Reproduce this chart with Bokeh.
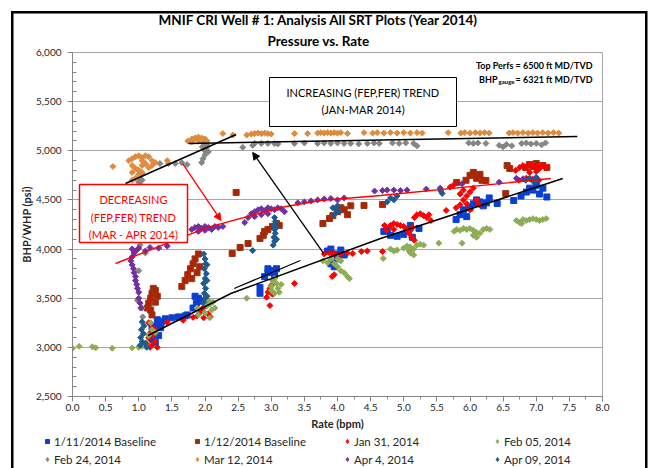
import math
from bokeh.plotting import figure
from bokeh.layouts import column
from bokeh.models import (Range1d, FixedTicker, NumeralTickFormatter, Label, BoxAnnotation,
                          Arrow, NormalHead, Legend, LegendItem, Title)
from bokeh.embed import file_html
from bokeh.resources import INLINE

FONT = "Lato"

# ---------------- data ----------------
x_ticks = [0.0, 0.5, 1.0, 1.5, 2.0, 2.5, 3.0, 3.5, 4.0, 4.5, 5.0, 5.5, 6.0, 6.5, 7.0, 7.5, 8.0]
x_minor_ticks = [0.25, 0.75, 1.25, 1.75, 2.25, 2.75, 3.25, 3.75, 4.25, 4.75, 5.25, 5.75,
                 6.25, 6.75, 7.25, 7.75]
y_ticks = [2500, 3000, 3500, 4000, 4500, 5000, 5500, 6000]
y_minor_ticks = [2600, 2700, 2800, 2900, 3100, 3200, 3300, 3400, 3600, 3700, 3800, 3900,
                 4100, 4200, 4300, 4400, 4600, 4700, 4800, 4900, 5100, 5200, 5300, 5400,
                 5600, 5700, 5800, 5900]

series_names = ["1/11/2014 Baseline", "1/12/2014 Baseline", "Jan 31, 2014", "Feb 05, 2014",
                "Feb 24, 2014", "Mar 12, 2014", "Apr 4, 2014", "Apr 09, 2014"]

b11_pts = [(1.2, 3080), (1.22, 3150), (1.25, 3220), (1.28, 3280), (1.3, 3120), (1.33, 3200),
           (1.35, 3260), (1.2, 3200), (1.25, 3050), (1.4, 3290), (1.5, 3300), (1.6, 3310),
           (1.7, 3320), (1.73, 3330), (1.82, 3400), (1.87, 3450), (1.9, 3500), (1.95, 3470),
           (1.85, 3520), (2.83, 3610), (2.83, 3550), (2.9, 3720), (2.95, 3760), (3.0, 3780),
           (3.05, 3740), (3.08, 3800), (2.95, 3800), (3.85, 3980), (3.9, 4000), (3.95, 3950),
           (4.0, 3900), (4.05, 3990), (4.1, 3940), (3.9, 3850), (3.95, 3820), (4.7, 4180),
           (4.75, 4200), (4.8, 4140), (4.9, 4130), (5.0, 4150), (5.05, 4200), (5.1, 4240),
           (5.13, 4120), (5.23, 4210), (5.79, 4300), (5.85, 4350), (5.9, 4400), (5.95, 4330),
           (6.0, 4420), (6.05, 4460), (6.1, 4500), (6.15, 4480), (6.2, 4440), (6.25, 4470),
           (6.29, 4520), (6.41, 4464), (6.66, 4494), (6.77, 4540), (6.85, 4580), (6.9, 4620),
           (6.95, 4600), (7.0, 4650), (7.05, 4560), (7.1, 4620), (7.16, 4530)]

b12_pts = [(1.13, 3400), (1.15, 3450), (1.18, 3500), (1.2, 3550), (1.22, 3600), (1.25, 3580),
           (1.28, 3520), (1.25, 3460), (1.18, 3380), (1.2, 3330), (1.65, 3620), (1.7, 3680),
           (1.74, 3740), (1.78, 3800), (1.82, 3850), (1.85, 3900), (1.9, 3950), (1.88, 3760),
           (1.92, 3820), (1.8, 3700), (2.41, 3955), (2.47, 4576), (2.53, 4016), (2.65, 4057),
           (2.83, 4108), (2.9, 4180), (2.95, 4200), (3.02, 4230), (3.08, 4260), (3.12, 4240),
           (2.88, 4140), (3.78, 4260), (3.88, 4311), (3.93, 4340), (4.0, 4380), (4.05, 4420),
           (4.1, 4400), (4.15, 4350), (4.2, 4440), (4.4, 4443), (4.68, 4454), (5.8, 4677),
           (5.94, 4700), (6.0, 4750), (6.05, 4780), (6.1, 4720), (6.15, 4760), (6.18, 4700),
           (6.24, 4698), (6.54, 4566), (6.56, 4850), (6.6, 4820), (6.84, 4830), (6.9, 4860),
           (7.0, 4870), (7.1, 4850), (7.16, 4830), (6.95, 4840)]

jan31_pts = [(1.13, 3050), (1.15, 3100), (1.18, 3150), (1.2, 3200), (1.22, 3120), (1.25, 3060),
             (1.2, 3020), (1.28, 3000), (1.25, 3180), (1.15, 3250), (1.17, 3000), (1.43, 3255),
             (1.67, 3275), (1.82, 3305), (1.88, 3320), (1.92, 3350), (1.95, 3390), (2.0, 3420),
             (2.05, 3340), (2.08, 3310), (1.98, 3300), (2.93, 3510), (2.95, 3560), (2.98, 3600),
             (3.0, 3630), (3.02, 3540), (2.98, 3425), (3.35, 3650), (3.92, 3720), (3.95, 3740),
             (3.8, 3950), (3.88, 3960), (3.95, 3955), (4.05, 3950), (4.15, 3960), (4.23, 3955),
             (4.36, 3975), (4.45, 3980), (4.68, 3975), (4.74, 4190), (4.8, 4240), (4.85, 4260),
             (4.9, 4250), (4.95, 4240), (5.0, 4230), (5.05, 4200), (5.1, 4190), (5.13, 4220),
             (4.85, 4200), (5.08, 4160), (5.12, 4120), (5.16, 4090), (4.71, 4240), (5.16, 4320),
             (5.2, 4350), (5.25, 4360), (5.3, 4340), (5.35, 4320), (5.38, 4350), (5.41, 4290),
             (5.64, 4393), (5.79, 4420), (5.85, 4450), (5.9, 4500), (5.95, 4540), (6.0, 4580),
             (6.05, 4620), (5.9, 4600), (5.85, 4560), (6.1, 4500), (5.95, 4460), (6.0, 4400),
             (6.14, 4450), (5.75, 4650), (5.7, 4630), (6.69, 4800), (6.75, 4830), (6.8, 4850),
             (6.85, 4840), (6.9, 4860), (6.95, 4850), (7.0, 4840), (7.05, 4820), (7.1, 4850),
             (7.16, 4830), (6.74, 4700), (6.85, 4720), (6.95, 4710), (7.04, 4700), (6.9, 4780),
             (7.0, 4790)]

feb05_pts = [(0.0, 2990), (0.1, 3010), (0.3, 3005), (0.35, 2995), (0.6, 2990), (0.9, 2995),
             (1.0, 3000), (1.05, 3010), (1.12, 3050), (1.15, 3120), (1.2, 3180), (1.18, 3250),
             (1.25, 3150), (1.88, 3400), (1.9, 3330), (2.0, 3350), (2.03, 3420), (2.05, 3480),
             (2.08, 3440), (2.1, 3380), (2.12, 3460), (2.15, 3400), (2.07, 3300), (2.0, 3460),
             (2.63, 3500), (3.0, 3620), (3.02, 3680), (3.05, 3700), (3.08, 3650), (3.1, 3600),
             (3.12, 3560), (3.15, 3640), (3.05, 3550), (3.0, 3580), (3.78, 3880), (3.85, 3860),
             (3.9, 3900), (3.95, 3850), (4.0, 3820), (4.05, 3780), (4.1, 3760), (4.15, 3720),
             (4.18, 3700), (4.0, 3900), (4.05, 3880), (4.69, 3904), (4.8, 4000), (4.85, 3980),
             (4.9, 3990), (5.0, 4010), (5.05, 4030), (5.1, 4020), (5.15, 4000), (5.2, 4040),
             (5.25, 4050), (5.3, 4040), (5.1, 3960), (5.15, 3940), (5.08, 3980), (5.53, 4060),
             (5.76, 4180), (5.8, 4200), (5.85, 4190), (5.9, 4210), (5.95, 4200), (6.0, 4210),
             (6.05, 4190), (6.1, 4170), (6.15, 4160), (6.2, 4200), (6.25, 4210), (6.3, 4200),
             (6.05, 4140), (6.1, 4120), (5.88, 4060), (6.7, 4290), (6.75, 4270), (6.8, 4300),
             (6.85, 4290), (6.9, 4300), (6.95, 4310), (7.0, 4300), (7.05, 4290), (7.1, 4300),
             (7.15, 4310), (6.78, 4260)]

feb24_pts = [(1.02, 4040), (1.1, 3960), (1.0, 3780), (0.98, 3480), (1.05, 3400), (1.06, 3310),
             (0.98, 4630), (1.0, 4680), (1.02, 4720), (1.05, 4760), (1.0, 4800), (1.03, 4650),
             (1.05, 4700), (1.32, 4870), (1.45, 4870), (1.55, 4870), (1.65, 4880), (1.73, 4860),
             (1.95, 4880), (1.97, 4920), (2.0, 4960), (2.0, 5000), (2.02, 5030), (2.03, 5060),
             (1.98, 5080), (2.05, 4990), (1.96, 5040), (2.57, 5035), (2.72, 5055), (2.75, 5075),
             (2.85, 5075), (2.95, 5075), (3.05, 5075), (3.1, 5070), (3.35, 5075), (3.5, 5080),
             (3.7, 5075), (3.8, 5080), (3.9, 5075), (4.0, 5080), (4.1, 5075), (4.2, 5075),
             (4.32, 5070), (4.45, 5075), (4.55, 5080), (4.63, 5075), (4.83, 5080), (4.93, 5075),
             (5.03, 5080), (5.15, 5075), (5.2, 5050), (5.98, 5080), (6.05, 5075), (6.12, 5080),
             (6.24, 5075), (6.44, 5055), (6.5, 5040), (6.55, 5065), (6.63, 5050), (6.78, 5075),
             (6.85, 5080), (6.92, 5070), (7.0, 5075), (7.08, 5060), (7.14, 5080)]

mar12_pts = [(0.61, 4840), (0.85, 4900), (0.9, 4920), (0.95, 4940), (1.0, 4950), (1.05, 4930),
             (1.1, 4950), (1.15, 4940), (1.2, 4900), (1.25, 4880), (0.9, 4850), (0.95, 4820),
             (1.0, 4800), (1.05, 4850), (1.1, 4870), (1.15, 4830), (1.0, 4760), (0.95, 4720),
             (0.9, 4700), (1.05, 4780), (0.9, 4780), (1.2, 4850), (1.05, 4900), (1.43, 4900),
             (1.74, 5100), (1.8, 5120), (1.85, 5130), (1.9, 5140), (1.95, 5130), (2.0, 5120),
             (2.03, 5100), (1.9, 5100), (1.8, 5090), (2.27, 5175), (2.42, 5160), (2.63, 5160),
             (2.7, 5170), (2.75, 5175), (2.8, 5180), (2.85, 5175), (2.9, 5180), (2.95, 5175),
             (3.0, 5170), (3.35, 5175), (3.55, 5175), (3.7, 5180), (3.75, 5185), (3.8, 5180),
             (3.85, 5185), (3.9, 5180), (3.95, 5185), (4.0, 5180), (4.05, 5185), (4.15, 5175),
             (4.4, 5185), (4.53, 5180), (4.6, 5185), (4.7, 5180), (4.8, 5185), (4.9, 5180),
             (5.0, 5185), (5.1, 5180), (5.2, 5185), (5.28, 5180), (5.67, 5185), (5.86, 5180),
             (5.92, 5185), (6.0, 5180), (6.08, 5185), (6.15, 5180), (6.22, 5185), (6.29, 5180),
             (6.59, 5180), (6.65, 5185), (6.72, 5180), (6.8, 5185), (6.88, 5180), (6.95, 5185),
             (7.02, 5180), (7.1, 5185), (7.18, 5180), (7.26, 5185), (7.34, 5180)]

apr04_pts = [(0.9, 4000), (0.93, 3960), (0.9, 3920), (0.88, 3880), (0.9, 3840), (0.92, 3800),
             (0.93, 3760), (0.95, 3720), (0.95, 3680), (0.97, 3640), (0.98, 3600), (1.0, 3560),
             (1.0, 3500), (1.02, 3450), (1.03, 3400), (0.97, 3990), (1.0, 4010), (1.1, 3980),
             (1.17, 4016), (1.3, 4010), (1.43, 4030), (1.8, 4200), (1.85, 4220), (1.9, 4230),
             (1.95, 4210), (2.0, 4230), (2.05, 4220), (2.1, 4200), (2.15, 4230), (1.9, 4180),
             (2.0, 4190), (2.2, 4220), (2.27, 4230), (2.6, 4270), (2.65, 4320), (2.7, 4360),
             (2.75, 4380), (2.8, 4400), (2.85, 4410), (2.9, 4390), (2.95, 4420), (3.0, 4410),
             (3.05, 4400), (3.1, 4420), (3.15, 4410), (2.75, 4330), (2.85, 4350), (2.95, 4360),
             (3.2, 4380), (3.4, 4470), (3.5, 4480), (3.6, 4490), (3.7, 4500), (3.8, 4510),
             (3.9, 4515), (4.0, 4500), (4.1, 4520), (4.56, 4590), (4.68, 4595), (4.75, 4600),
             (4.85, 4600), (4.95, 4595), (5.05, 4600), (5.34, 4610), (5.55, 4620), (5.88, 4665),
             (6.44, 4680), (6.7, 4720), (6.8, 4715), (6.9, 4720), (7.0, 4718)]

apr09_pts = [(1.02, 3020), (1.05, 3060), (1.03, 3100), (1.07, 3140), (1.04, 3180), (1.08, 3220),
             (1.05, 3260), (1.1, 3040), (1.12, 3000), (1.98, 3460), (2.0, 3500), (1.99, 3550),
             (2.01, 3600), (1.98, 3650), (2.0, 3700), (2.02, 3750), (1.99, 3800), (2.01, 3850),
             (2.0, 3900), (1.98, 3950), (2.03, 3520), (2.03, 3680), (2.03, 3840), (2.72, 3985),
             (3.03, 4040), (3.05, 4080), (3.04, 4120), (3.06, 4160), (3.05, 4200), (3.04, 4240),
             (3.06, 4280), (3.05, 4320), (3.08, 4100), (3.08, 4220), (3.95, 4350), (3.98, 4400),
             (4.0, 4440), (4.03, 4380), (3.93, 4420), (4.75, 4480), (4.8, 4520), (4.85, 4500),
             (4.9, 4540), (5.56, 4590), (5.58, 4566), (6.84, 4700), (6.9, 4720), (7.0, 4730),
             (6.95, 4690), (7.0, 4687)]

all_series = [b11_pts, b12_pts, jan31_pts, feb05_pts, feb24_pts, mar12_pts, apr04_pts,
              apr09_pts]

# trend lines
inc_trend_a_x = [0.80, 2.47]
inc_trend_a_y = [4667, 5166]
inc_trend_b_x = [1.75, 7.62]
inc_trend_b_y = [5074, 5146]
dec_trend_x = [0.65, 2.04, 3.14, 3.74, 4.65, 7.22]
dec_trend_y = [3853, 4220, 4423, 4494, 4545, 4718]
low_trend_x = [1.14, 2.39, 4.65, 7.40]
low_trend_y = [3121, 3548, 4108, 4718]
low_trend2_x = [2.44, 3.44]
low_trend2_y = [3599, 3884]
black_arrow = [(3.79, 3955), (2.72, 4983)]
red_arrow = [(1.66, 4871), (2.24, 4291)]

# ---------------- main figure ----------------
W = 654
FL, FT, FW, FH, FB = 72, 52, 530, 344, 36
H1 = FT + FH + FB
H2 = 468 - H1
top_css = ("linear-gradient(#000,#000) 11px 11px / 2.5px 600px no-repeat, "
           "linear-gradient(#000,#000) 11px 11px / 636px 2.5px no-repeat, "
           "linear-gradient(#000,#000) 645px 11px / 2.5px 600px no-repeat, #ffffff")
low_css = ("linear-gradient(#000,#000) 11px 0px / 2.5px 600px no-repeat, "
           "linear-gradient(#000,#000) 645px 0px / 2.5px 600px no-repeat, #ffffff")

p = figure(width=W, height=H1, output_backend="svg", toolbar_location=None, title=None,
           x_range=Range1d(0, 8), y_range=Range1d(2500, 6000),
           min_border_left=FL, min_border_right=W - FL - FW,
           min_border_top=FT, min_border_bottom=FB,
           styles={"background": top_css})
p.frame_align = False
p.background_fill_color = "white"
p.border_fill_alpha = 0
p.outline_line_color = "#A6A6A6"
p.xgrid.visible = False
p.ygrid.ticker = FixedTicker(ticks=y_ticks)
p.ygrid.grid_line_color = "#A6A6A6"
p.ygrid.grid_line_width = 1

# titles (the later one is placed farther from the plot)
p.add_layout(Title(text="Pressure vs. Rate", align="left", offset=195, standoff=7,
                   text_font=FONT, text_font_size="13.5px", text_font_style="bold",
                   text_color="#000000"), "above")
p.add_layout(Title(text="MNIF CRI Well # 1: Analysis All SRT Plots (Year 2014)", align="left",
                   offset=86, standoff=0, text_font=FONT, text_font_size="13.5px",
                   text_font_style="bold", text_color="#000000"), "above")


def X(px):  # page pixel -> data x (for annotations inside the plot area)
    return (px - FL) / (FW / 8.0)


def Y(py):
    return 6000 - (py - FT) * 3500.0 / FH


for ax, tk, mtk in ((p.xaxis, x_ticks, x_minor_ticks), (p.yaxis, y_ticks, y_minor_ticks)):
    ax.ticker = FixedTicker(ticks=tk, minor_ticks=mtk)
    ax.axis_line_color = "#868686"
    ax.major_tick_line_color = "#868686"
    ax.minor_tick_line_color = "#868686"
    ax.major_label_text_font = FONT
    ax.major_label_text_font_size = "10px"
    ax.major_label_text_color = "#262626"
    ax.axis_label_text_font = FONT
    ax.axis_label_text_font_size = "11px"
    ax.axis_label_text_font_style = "bold"
    ax.axis_label_text_color = "#262626"
    ax.major_tick_out = 5
    ax.major_tick_in = 0

p.xaxis.formatter = NumeralTickFormatter(format="0.0")
p.yaxis.formatter = NumeralTickFormatter(format="0,0")
p.xaxis.minor_tick_out = 3
p.xaxis.minor_tick_in = 0
p.yaxis.minor_tick_in = 4
p.yaxis.minor_tick_out = 0
p.xaxis.axis_label = "Rate (bpm)"
p.yaxis.axis_label = "BHP/WHP (psi)"
p.xaxis.major_label_standoff = 2
p.xaxis.axis_label_standoff = 3
p.yaxis.major_label_standoff = 6
p.yaxis.axis_label_standoff = 0

# ---------------- series ----------------
DIA = math.pi / 4
styles = [
    (6, "#0B3FD0", "#0B3FD0", 0),
    (6, "#B81E00", "#8E3A18", 0),
    (4.2, "#FF0000", "#FF0000", DIA),
    (4.2, "#8EAC56", "#8EAC56", DIA),
    (4.2, "#858585", "#858585", DIA),
    (4.2, "#E08A3C", "#E08A3C", DIA),
    (4.2, "#7030A0", "#7030A0", DIA),
    (4.2, "#215A8F", "#215A8F", DIA),
]
for pts, (sz, fc, lc, ang) in zip(all_series, styles):
    xs = [a for a, b in pts]
    ys = [b for a, b in pts]
    p.scatter(xs, ys, marker="square", size=sz, fill_color=fc, line_color=lc, angle=ang)

# trend lines
p.line(inc_trend_a_x, inc_trend_a_y, line_color="black", line_width=1.5)
p.line(inc_trend_b_x, inc_trend_b_y, line_color="black", line_width=1.5)
p.line(low_trend_x, low_trend_y, line_color="black", line_width=1.5)
p.line(low_trend2_x, low_trend2_y, line_color="black", line_width=1.2)
p.line(dec_trend_x, dec_trend_y, line_color="#FF0000", line_width=1.4)

p.add_layout(Arrow(end=NormalHead(size=7, fill_color="black", line_color="black"),
                   x_start=black_arrow[0][0], y_start=black_arrow[0][1],
                   x_end=black_arrow[1][0], y_end=black_arrow[1][1],
                   line_color="black", line_width=1.3))
p.add_layout(Arrow(end=NormalHead(size=7, fill_color="#FF0000", line_color="#FF0000"),
                   x_start=red_arrow[0][0], y_start=red_arrow[0][1],
                   x_end=red_arrow[1][0], y_end=red_arrow[1][1],
                   line_color="#FF0000", line_width=1.3))

# ---------------- annotation boxes / texts ----------------
p.add_layout(BoxAnnotation(left=X(269), right=X(456), top=Y(77), bottom=Y(126),
                           fill_color="white", fill_alpha=1, line_color="black", line_width=1,
                           line_alpha=1))
p.add_layout(BoxAnnotation(left=X(79), right=X(187), top=Y(184), bottom=Y(242),
                           fill_color="white", fill_alpha=1, line_color="#FF0000", line_width=1.5,
                           line_alpha=1))


def lab(text, px, py, size, color="#000000", bold=False, align="center"):
    p.add_layout(Label(x=X(px), y=Y(py), text=text, text_font=FONT,
                       text_font_size=f"{size}px", text_color=color,
                       text_font_style="bold" if bold else "normal",
                       text_align=align, text_baseline="middle"))


lab("Top Perfs = 6500 ft MD/TVD", 592, 65, 9, bold=True, align="right")
lab("= 6321 ft MD/TVD", 592, 79, 9, bold=True, align="right")
lab("gauge", 514, 81, 6, bold=True, align="right")
lab("BHP", 497, 79, 9, bold=True, align="right")
lab("INCREASING (FEP,FER) TREND", 362.5, 92, 11)
lab("(JAN-MAR 2014)", 362.5, 109, 11)
lab("DECREASING", 133, 199, 11, color="#FF0000")
lab("(FEP,FER) TREND", 133, 217, 11, color="#FF0000")
lab("(MAR - APR 2014)", 133, 234, 11, color="#FF0000")

# ---------------- legend strip (its own small plot, legend inside its frame) ----------------
q = figure(width=W, height=H2, output_backend="svg", toolbar_location=None, title=None,
           x_range=Range1d(0, W), y_range=Range1d(0, H2), min_border=0,
           x_axis_type=None, y_axis_type=None, styles={"background": low_css})
q.frame_align = False
q.background_fill_alpha = 0
q.border_fill_alpha = 0
q.outline_line_color = None
q.grid.visible = False

legend_markers = ["square", "square", "diamond", "diamond", "diamond", "diamond", "diamond",
                  "diamond"]
legend_colors = ["#0B3FD0", "#993300", "#FF0000", "#8EAC56", "#858585", "#E08A3C", "#7030A0",
                 "#215A8F"]
items = []
for name, pts, mk, col in zip(series_names, all_series, legend_markers, legend_colors):
    # same series data; it lies outside this strip's ranges, so only the legend glyph shows
    r = q.scatter(x=[a for a, b in pts], y=[b for a, b in pts], marker=mk, size=5,
                  fill_color=col, line_color=col)
    items.append(LegendItem(label=name, renderers=[r]))

legend = Legend(items=items, location=(42, 0), orientation="horizontal", ncols=4,
                glyph_width=10, glyph_height=18, label_standoff=2, label_width=138,
                label_height=18, spacing=0, padding=0, margin=0, border_line_color=None,
                background_fill_alpha=0, label_text_font=FONT, label_text_font_size="11.5px",
                label_text_color="#262626")
q.add_layout(legend)

layout = column(p, q, spacing=0)
open("out.html", "w").write(file_html(layout, INLINE))
